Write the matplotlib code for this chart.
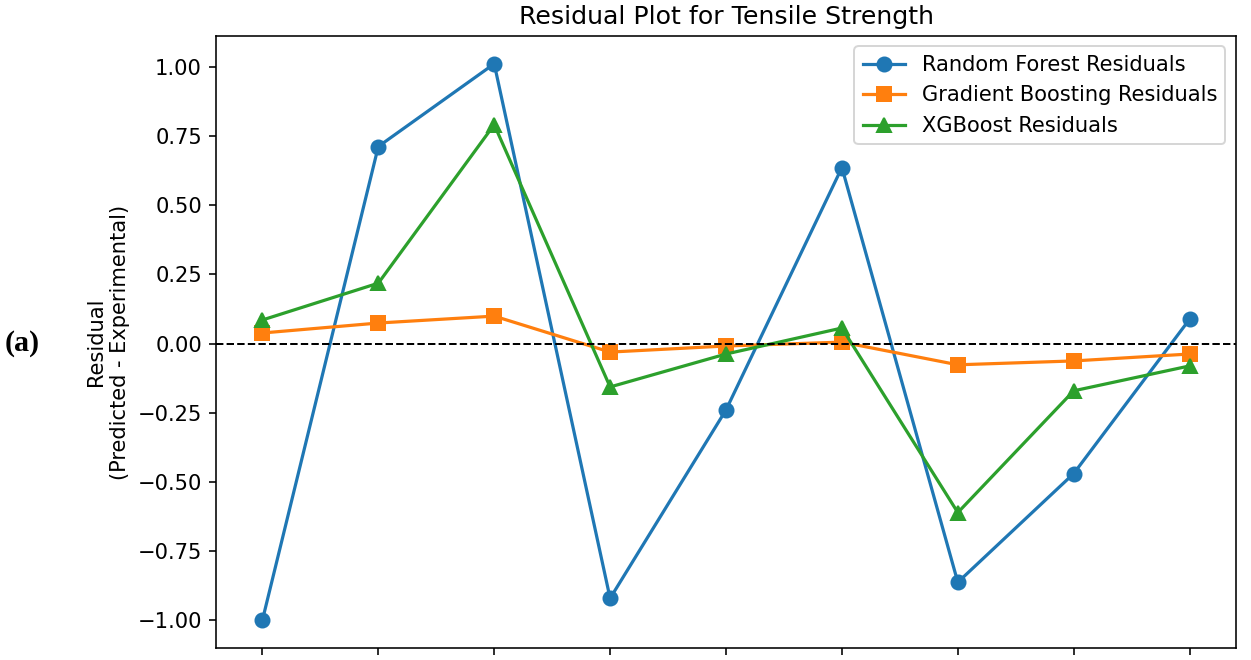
import matplotlib.pyplot as plt
import numpy as np

######### DATA #########
samples = np.arange(9)
rf_residuals = [-1.00, 0.712, 1.011, -0.921, -0.240, 0.636, -0.863, -0.470, 0.088]
gb_residuals = [0.038, 0.074, 0.099, -0.031, -0.009, 0.005, -0.077, -0.063, -0.038]
xgb_residuals = [0.085, 0.218, 0.791, -0.157, -0.038, 0.056, -0.611, -0.171, -0.081]

######### PLOT #########
plt.rcParams['font.size'] = 10.5
plt.rcParams['lines.linewidth'] = 1.6
plt.rcParams['lines.markersize'] = 7

fig = plt.figure(figsize=(1251 / 144, 660 / 144), dpi=144)
ax = fig.add_axes([0.1727, 0.0182, 0.8153, 0.9273])

ax.plot(samples, rf_residuals, marker='o', label='Random Forest Residuals')
ax.plot(samples, gb_residuals, marker='s', label='Gradient Boosting Residuals')
ax.plot(samples, xgb_residuals, marker='^', label='XGBoost Residuals')
ax.axhline(0, color='black', linestyle='--', linewidth=1)

ax.set_title('Residual Plot for Tensile Strength')
ax.set_ylabel('Residual\n(Predicted - Experimental)')
ax.set_xticks(samples)
ax.tick_params(labelbottom=False)
ax.legend(loc='upper right')

fig.text(0.004, 0.48, '(a)', family='Liberation Serif', fontweight='bold',
         fontsize=15, va='center', ha='left')

fig.savefig('out.png', dpi=144)
